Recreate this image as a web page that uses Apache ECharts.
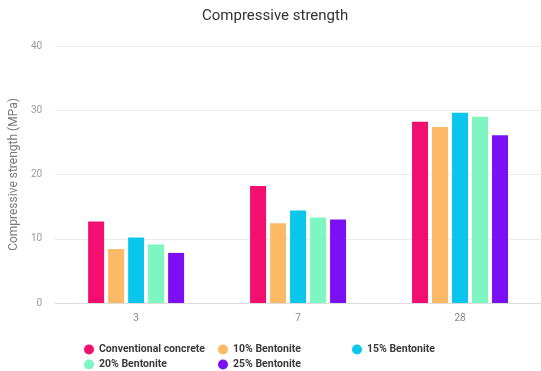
<!DOCTYPE html>
<html>
<head>
<meta charset="utf-8">
<script src="https://cdn.jsdelivr.net/npm/echarts@6/dist/echarts.min.js"></script>
<style>
  html, body { margin: 0; padding: 0; background: #fff; }
  #chart { width: 541px; height: 371px; }
</style>
</head>
<body>
<div id="chart"></div>
<script>
// Curing age (days)
const ages = ['3', '7', '28'];
const yTicks = [0, 10, 20, 30, 40];

// Compressive strength (MPa) per mix
const conventional = [12.7, 18.2, 28.2];
const bentonite10 = [8.4, 12.4, 27.4];
const bentonite15 = [10.2, 14.4, 29.6];
const bentonite20 = [9.1, 13.3, 29.0];
const bentonite25 = [7.8, 13.0, 26.1];

const seriesNames = ['Conventional concrete', '10% Bentonite', '15% Bentonite', '20% Bentonite', '25% Bentonite'];
const seriesValues = [conventional, bentonite10, bentonite15, bentonite20, bentonite25];
const colors = ['#f20f70', '#fcb966', '#0bc6ec', '#7df6c2', '#7b10f6'];

const chart = echarts.init(document.getElementById('chart'), null, { renderer: 'canvas' });

const legendText = { fontFamily: 'Roboto', fontSize: 10.5, fontWeight: 'bold', color: '#3a3a3a' };
function legendColumn(left, names) {
  return {
    orient: 'vertical', left: left, top: 344, itemWidth: 10, itemHeight: 10, itemGap: 4,
    icon: 'circle', padding: 0, textStyle: legendText, data: names, selectedMode: false
  };
}

chart.setOption({
  animation: false,
  color: colors,
  title: {
    text: 'Compressive strength', left: 202, top: 9, padding: 0,
    textStyle: { fontFamily: 'Roboto', fontSize: 15, fontWeight: 'normal', color: '#333' }
  },
  legend: [
    legendColumn(84, [seriesNames[0], seriesNames[3]]),
    legendColumn(218, [seriesNames[1], seriesNames[4]]),
    legendColumn(352, [seriesNames[2]])
  ],
  grid: { left: 50, top: 46, width: 495, height: 257, containLabel: false },
  xAxis: {
    type: 'category', data: ages,
    axisLine: { lineStyle: { color: '#dcdcdc' } },
    axisTick: { show: false },
    axisLabel: { color: '#8a8a8a', fontFamily: 'Roboto', fontSize: 10, margin: 10 }
  },
  yAxis: {
    type: 'value', min: yTicks[0], max: yTicks[yTicks.length - 1], interval: 10,
    name: 'Compressive strength (MPa)', nameLocation: 'middle', nameGap: 26,
    nameTextStyle: { color: '#7a7a7a', fontFamily: 'Roboto', fontSize: 12 },
    axisLine: { show: false }, axisTick: { show: false },
    axisLabel: { color: '#9a9a9a', fontFamily: 'Roboto', fontSize: 10, margin: 13 },
    splitLine: { lineStyle: { color: '#ebebeb' } }
  },
  series: seriesNames.map((name, i) => ({
    name: name, type: 'bar', data: seriesValues[i],
    barWidth: 16, barGap: '25%'
  }))
});
</script>
</body>
</html>
